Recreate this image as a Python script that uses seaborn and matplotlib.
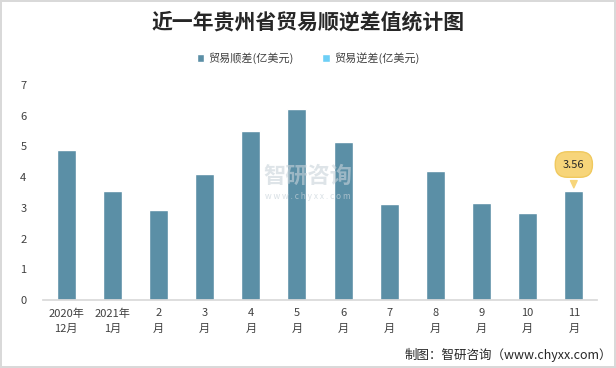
import numpy as np
import pandas as pd
import matplotlib.pyplot as plt
import seaborn as sns
from matplotlib.patches import Patch

# ----- data -----
months = ['2020年\n12月', '2021年\n1月', '2\n月', '3\n月', '4\n月', '5\n月',
          '6\n月', '7\n月', '8\n月', '9\n月', '10\n月', '11\n月']
surplus = [4.88, 3.55, 2.93, 4.10, 5.50, 6.22, 5.15, 3.13, 4.20, 3.16, 2.83, 3.56]
series_names = ['贸易顺差(亿美元)', '贸易逆差(亿美元)']
colors = ['#5B8FA6', '#6DCFF6']

df = pd.DataFrame({'month': months, 'value': surplus})

sns.set_theme(style='white')
plt.rcParams['font.family'] = ['Noto Sans CJK SC', 'DejaVu Sans']

fig = plt.figure(figsize=(6.16, 3.68), dpi=100)
fig.patch.set_edgecolor('#D9D9D9')
fig.patch.set_linewidth(1.5)
ax = fig.add_axes([0.07, 0.185, 0.899, 0.584])

# deficit series is empty for the whole period, only surplus bars are drawn
sns.barplot(data=df, x='month', y='value', color=colors[0], saturation=1,
            width=0.41, ax=ax)

ax.set_ylim(0, 7)
ax.set_yticks(range(8))
ax.set_xlim(-0.5, 11.5)
ax.set_xlabel('')
ax.set_ylabel('')
for s in ['top', 'right', 'left']:
    ax.spines[s].set_visible(False)
ax.spines['bottom'].set_color('#D9D9D9')
ax.tick_params(axis='both', length=0, labelsize=8, colors='#404040', pad=6)
ax.tick_params(axis='y', pad=12)
for lbl in ax.get_xticklabels():
    lbl.set_linespacing(1.7)

# legend
handles = [Patch(facecolor=c, label=n) for c, n in zip(colors, series_names)]
fig.legend(handles=handles, loc='center', bbox_to_anchor=(0.5, 0.842), ncol=2,
           frameon=False, fontsize=8, handlelength=0.7, handleheight=0.7,
           columnspacing=2.5, handletextpad=0.4, labelcolor='#404040')

# title
fig.text(0.5, 0.94, '近一年贵州省贸易顺逆差值统计图', ha='center', va='center',
         fontsize=15, fontweight='bold', color='#262626')

# callout for the last value
ax.annotate(f'{surplus[-1]:.2f}', xy=(11, surplus[-1]), xytext=(11, surplus[-1] + 0.85),
            ha='center', va='center', fontsize=8, color='#262626',
            bbox=dict(boxstyle='round,pad=0.7,rounding_size=1.1', fc='#F7D57A', ec='#F0C95E'),
            arrowprops=dict(arrowstyle='wedge,tail_width=0.6,shrink_factor=0.5',
                            fc='#F7D57A', ec='#F7D57A'))

# watermark
fig.text(0.5, 0.52, '智研咨询', ha='center', va='center', fontsize=16,
         color='#C8D3DA', alpha=0.6, fontweight='bold')
fig.text(0.5, 0.465, 'w w w . c h y x x . c o m', ha='center', va='center', fontsize=6,
         color='#C8D3DA', alpha=0.7)

# source
fig.text(0.993, 0.035, '制图：智研咨询（www.chyxx.com）', ha='right', va='center',
         fontsize=9, color='#262626')

fig.savefig('out.png', dpi=100, edgecolor=fig.get_edgecolor())
